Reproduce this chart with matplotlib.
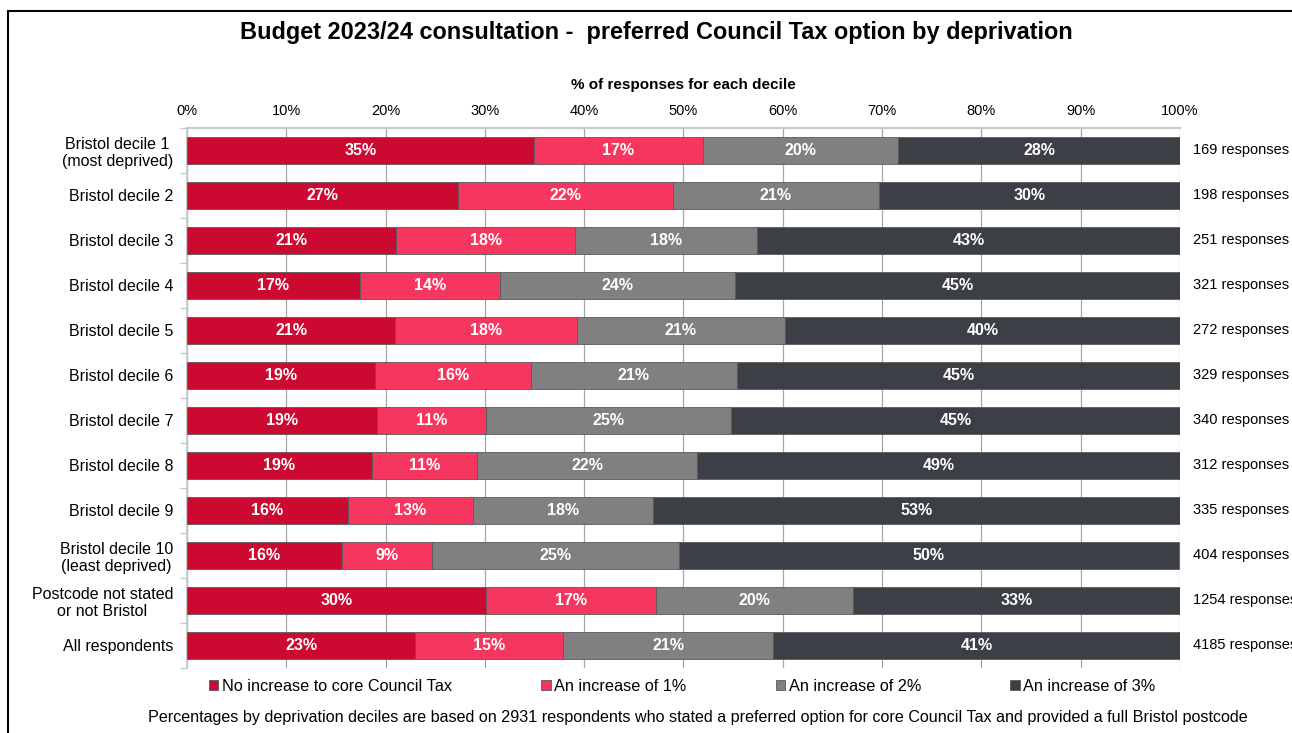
import matplotlib.pyplot as plt
import matplotlib.patches as mpatches
import numpy as np

plt.rcParams['font.family'] = ['Liberation Sans', 'DejaVu Sans']

groups = ['Bristol decile 1\n(most deprived)', 'Bristol decile 2', 'Bristol decile 3',
          'Bristol decile 4', 'Bristol decile 5', 'Bristol decile 6', 'Bristol decile 7',
          'Bristol decile 8', 'Bristol decile 9', 'Bristol decile 10\n(least deprived)',
          'Postcode not stated\nor not Bristol', 'All respondents']
responses = [169, 198, 251, 321, 272, 329, 340, 312, 335, 404, 1254, 4185]

series = ['No increase to core Council Tax', 'An increase of 1%',
          'An increase of 2%', 'An increase of 3%']
no_increase = [34.9, 27.3, 21.1, 17.4, 21.0, 18.9, 19.1, 18.6, 16.2, 15.6, 30.1, 23.0]
increase_1 = [17.1, 21.6, 18.0, 14.1, 18.3, 15.7, 11.0, 10.6, 12.6, 9.1, 17.1, 14.9]
increase_2 = [19.6, 20.8, 18.3, 23.7, 20.9, 20.8, 24.7, 22.2, 18.1, 24.8, 19.9, 21.1]
increase_3 = [28.4, 30.3, 42.6, 44.8, 39.8, 44.6, 45.2, 48.6, 53.1, 50.4, 32.9, 41.0]

colors = ['#CC0A31', '#F5375F', '#808080', '#3C3F45']

fig = plt.figure(figsize=(12.92, 7.33), dpi=100)
ax = fig.add_axes([0.1447, 0.0887, 0.7686, 0.7367])

y = np.arange(len(groups))
left = np.zeros(len(groups))
for name, vals, c in zip(series, [no_increase, increase_1, increase_2, increase_3], colors):
    vals = np.array(vals)
    ax.barh(y, vals, left=left, height=0.6, color=c, edgecolor='#5a5a5a',
            linewidth=0.6, label=name, zorder=3)
    for yi, l, v in zip(y, left, vals):
        ax.text(l + v / 2, yi, f'{v:.0f}%', ha='center', va='center', color='white',
                fontsize=11.5, fontweight='bold', zorder=4)
    left += vals

for yi, r in zip(y, responses):
    ax.text(101.3, yi, f'{r} responses', ha='left', va='center', fontsize=10.5,
            clip_on=False)

ax.set_xlim(0, 100)
ax.set_ylim(len(groups) - 0.5, -0.5)
ax.set_xticks(np.arange(0, 101, 10))
ax.set_xticklabels([f'{t}%' for t in range(0, 101, 10)], fontsize=10.5)
ax.xaxis.tick_top()
ax.xaxis.set_label_position('top')
ax.set_xlabel('% of responses for each decile', fontsize=11, fontweight='bold', labelpad=11)
ax.tick_params(axis='x', length=0, pad=7)

ax.set_yticks(y)
ax.set_yticklabels(groups, fontsize=11.5, linespacing=1.15, multialignment='center')
ax.set_yticks(np.arange(-0.5, len(groups), 1), minor=True)
ax.tick_params(axis='y', which='major', length=0, pad=10)
ax.tick_params(axis='y', which='minor', length=5, color='#c8c8c8', width=1)

ax.grid(axis='x', color='#a6a6a6', linewidth=0.9, zorder=0)
for s in ['right', 'bottom']:
    ax.spines[s].set_visible(False)
ax.spines['left'].set_color('#c8c8c8')
ax.spines['top'].set_color('#c8c8c8')
ax.spines['left'].set_linewidth(1.2)
ax.spines['top'].set_linewidth(1.5)

fig.legend(loc='center', bbox_to_anchor=(0.528, 0.064), ncol=4, frameon=False,
           fontsize=11.7, handlelength=0.6, handleheight=0.6, handletextpad=0.2,
           columnspacing=5.5)

fig.suptitle('Budget 2023/24 consultation -  preferred Council Tax option by deprivation',
             x=0.508, y=0.956, va='center', fontsize=16.9, fontweight='bold')
fig.text(0.54, 0.021, 'Percentages by deprivation deciles are based on 2931 respondents who '
         'stated a preferred option for core Council Tax and provided a full Bristol postcode',
         ha='center', va='center', fontsize=11.6)

fig.patches.append(mpatches.Rectangle((8 / 1292, -0.1), 1.1, 1.1 - 11 / 733,
                                      transform=fig.transFigure, fill=False,
                                      edgecolor='black', linewidth=1.5))

fig.savefig('out.png', dpi=100)
